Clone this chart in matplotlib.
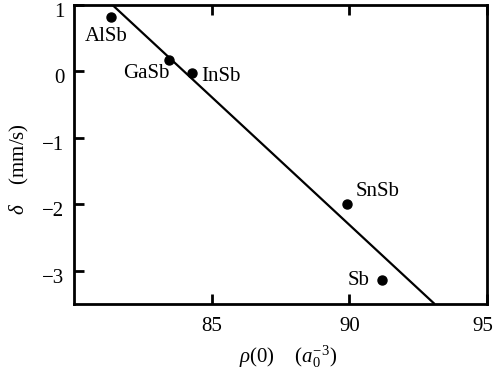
import matplotlib.pyplot as plt
from matplotlib.transforms import ScaledTranslation

plt.rcParams['font.family'] = ['Liberation Serif', 'DejaVu Serif']
plt.rcParams['mathtext.fontset'] = 'custom'
plt.rcParams['mathtext.rm'] = 'Liberation Serif'
plt.rcParams['mathtext.it'] = 'Liberation Serif:italic'

# 电子密度 vs 同质异能移
compounds = ['AlSb', 'GaSb', 'InSb', 'SnSb', 'Sb']
rho0 = [81.35, 83.43, 84.29, 89.93, 91.18]
delta = [0.82, 0.17, -0.03, -2.0, -3.14]

# 拟合直线两端
fit_x = [81.39, 93.1]
fit_y = [1.0, -3.5]

fig = plt.figure(figsize=(4.94, 3.75), dpi=100)
ax = fig.add_axes([0.150, 0.189, 0.836, 0.798])

ax.plot(fit_x, fit_y, color='black', lw=1.6, solid_capstyle='butt')
ax.plot(rho0, delta, 'o', color='black', ms=6.5)

offsets = {
    'AlSb': (-3.6, -7.5, 'center', 'top'),
    'GaSb': (0.5, -10, 'right', 'center'),
    'InSb': (6.5, -2.5, 'left', 'center'),
    'SnSb': (5.8, 9.5, 'left', 'center'),
    'Sb': (-9, 0, 'right', 'center'),
}
for name, x, y in zip(compounds, rho0, delta):
    dx, dy, ha, va = offsets[name]
    ax.annotate(name, (x, y), xytext=(dx, dy), textcoords='offset points',
                ha=ha, va=va, fontsize=15)

ax.set_xlim(80, 95)
ax.set_ylim(-3.5, 1)
ax.set_xticks([85, 90, 95])
ax.set_yticks([-3, -2, -1, 0, 1])
ax.set_yticklabels(['\u22123', '\u22122', '\u22121', '0', '1'])
ax.tick_params(direction='in', length=7, width=2, labelsize=15,
               top=True, right=False)
ax.tick_params(axis='x', pad=9)
ax.tick_params(axis='y', pad=7)
for s in ax.spines.values():
    s.set_linewidth(2)

# y 刻度标签整体略微下移
shift_down = ScaledTranslation(0, -3.5 / 72, fig.dpi_scale_trans)
for lbl in ax.get_yticklabels():
    lbl.set_transform(lbl.get_transform() + shift_down)

# 95 贴着右边框，标签稍微左移
lbl95 = ax.get_xticklabels()[-1]
lbl95.set_transform(lbl95.get_transform() +
                    ScaledTranslation(-3 / 72, 0, fig.dpi_scale_trans))

ax.set_xlabel(r'$\it{\rho}$(0)    ($\it{a}_0^{-3}$)', fontsize=15)
ax.set_ylabel(r'$\it{\delta}$    (mm/s)', fontsize=15)
ax.xaxis.set_label_coords(0.517, -0.13)
ax.yaxis.set_label_coords(-0.105, 0.45)

plt.savefig('out.png', dpi=100)
